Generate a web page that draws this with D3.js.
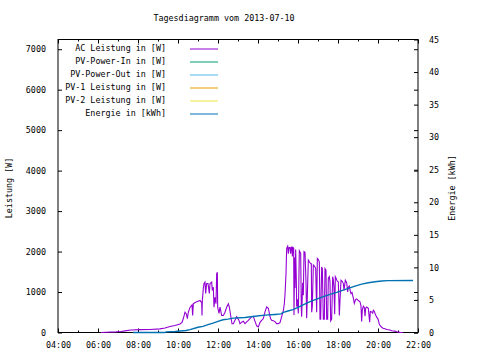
<!DOCTYPE html>
<html><head><meta charset="utf-8">
<script src="https://cdn.jsdelivr.net/npm/d3@7"></script>
<style>
html,body{margin:0;padding:0;background:#fff;}
text{font-family:"DejaVu Sans Mono",monospace;font-size:8.4px;fill:#000;}
</style></head>
<body><svg id="c" width="480" height="360"></svg>
<script>
const title = "Tagesdiagramm vom 2013-07-10";
const seriesNames = ["AC Leistung in [W]","PV-Power-In in [W]","PV-Power-Out in [W]","PV-1 Leistung in [W]","PV-2 Leistung in [W]","Energie in [kWh]"];
const seriesColors = ["#9400d3","#009e73","#56b4e9","#e69f00","#f0e442","#0072b2"];
const xTickLabels = ["04:00","06:00","08:00","10:00","12:00","14:00","16:00","18:00","20:00","22:00"];
const yTicks = [0,1000,2000,3000,4000,5000,6000,7000];
const y2Ticks = [0,5,10,15,20,25,30,35,40,45];

const acTimes = ["06:09","06:24","06:54","07:09","07:21","07:39","08:06","08:36","09:06","09:21","09:36","09:51","10:06","10:12","10:16","10:21","10:25","10:28","10:31","10:36","10:42","10:44","10:46","10:51","11:00","11:06","11:11","11:12","11:13","11:16","11:18","11:21","11:23","11:26","11:30","11:34","11:36","11:41","11:43","11:46","11:48","11:51","11:54","11:56","11:58","11:59","12:03","12:06","12:11","12:16","12:21","12:26","12:31","12:34","12:38","12:42","12:46","12:51","12:56","13:00","13:03","13:06","13:11","13:16","13:21","13:26","13:31","13:36","13:41","13:46","13:50","13:56","14:01","14:06","14:11","14:16","14:21","14:26","14:31","14:36","14:38","14:41","14:46","14:51","14:56","15:01","15:06","15:11","15:16","15:19","15:21","15:24","15:26","15:29","15:31","15:33","15:36","15:38","15:40","15:42","15:43","15:45","15:47","15:48","15:50","15:51","15:53","15:55","15:56","15:58","16:01","16:04","16:08","16:10","16:11","16:14","16:16","16:18","16:21","16:24","16:26","16:28","16:31","16:34","16:38","16:40","16:41","16:43","16:46","16:51","16:53","16:56","16:58","17:01","17:04","17:06","17:08","17:11","17:13","17:16","17:19","17:21","17:24","17:26","17:29","17:31","17:34","17:36","17:38","17:41","17:44","17:46","17:48","17:50","17:52","17:54","17:56","17:58","18:01","18:04","18:06","18:09","18:13","18:16","18:18","18:22","18:26","18:29","18:31","18:34","18:36","18:39","18:42","18:46","18:49","18:53","18:56","19:01","19:06","19:09","19:11","19:13","19:16","19:19","19:21","19:23","19:26","19:31","19:33","19:35","19:37","19:41","19:44","19:46","19:49","19:51","19:56","19:59","20:01","20:04","20:06","20:11","20:15","20:21","20:26","20:36","20:41","20:51","20:56","21:01","21:06","21:15"];
const acValues = [0,8,15,25,40,60,70,75,90,110,150,175,210,250,345,500,460,340,500,620,680,420,710,740,770,790,740,420,790,1090,1210,1245,965,1210,1210,965,1210,1245,1040,1120,625,870,710,1450,1490,625,470,625,420,420,500,625,710,625,420,215,215,300,390,340,300,215,255,280,220,265,300,340,390,400,300,165,140,250,300,345,510,630,600,400,340,300,290,270,220,220,245,390,540,715,940,1450,2080,2130,1950,2100,2100,1950,2110,2100,1880,2100,2080,430,1850,1100,2050,1300,640,820,470,2020,1960,560,390,1230,920,2000,1980,1250,350,900,1790,1750,1700,1700,500,650,1670,1620,1580,500,1830,1800,1740,330,330,1620,1580,330,330,1580,1540,330,330,1340,1380,1250,290,330,1380,1300,1090,450,1380,1350,1300,1270,1250,420,790,1290,1260,1210,1040,1290,1230,1000,1120,1150,1050,960,990,850,720,820,830,790,760,650,270,560,650,620,400,600,630,600,420,255,520,510,480,550,520,470,380,350,310,200,175,130,105,95,75,60,45,35,20,10,3,0];

const energyTimes = ["07:45","09:21","09:24","09:51","10:24","10:36","11:00","11:15","11:30","11:45","12:00","12:15","12:30","12:45","13:21","13:51","14:21","14:51","15:09","15:16","15:30","15:45","16:00","16:15","16:36","16:56","17:16","17:36","17:56","18:11","18:31","18:51","19:11","19:31","19:51","20:11","20:30","21:45"];
const energyValues = [0,0,0.1,0.15,0.3,0.45,0.8,0.95,1.2,1.45,1.72,1.95,2.05,2.2,2.3,2.5,2.67,2.77,2.85,3.1,3.3,3.5,3.85,4.25,4.73,5.13,5.5,5.86,6.16,6.42,6.78,7.13,7.44,7.65,7.8,7.9,7.96,7.98];

const pvInValues = [];
const pvOutValues = [];
const pv1Values = [];
const pv2Values = [];

const parseT = d3.timeParse("%H:%M");
const L=58, R=418, T=39.5, B=332.5;
const svg = d3.select("#c");
const x = d3.scaleTime().domain([parseT("04:00"), parseT("22:00")]).range([L,R]);
const y = d3.scaleLinear().domain([0,7240]).range([B,T]);
const y2 = d3.scaleLinear().domain([0,45]).range([B,T]);

svg.append("rect").attr("width",480).attr("height",360).attr("fill","#fff");

// title
svg.append("text").attr("x",224).attr("y",21).attr("text-anchor","middle").text(title);

const majorX = xTickLabels.map(parseT);
const minorX = d3.range(5,22,2).map(h=>parseT(String(h).padStart(2,"0")+":00"));

function styleAxis(g){ g.select(".domain").remove(); g.selectAll("line").attr("stroke","#000"); g.selectAll("text").attr("fill","#000").style("font-family",null).style("font-size",null).attr("font-family",null).attr("font-size",null); }

// bottom major
svg.append("g").attr("transform",`translate(0,${B})`)
  .call(d3.axisBottom(x).tickValues(majorX).tickSize(-4).tickPadding(10).tickFormat(d3.timeFormat("%H:%M")))
  .call(styleAxis);
svg.append("g").attr("transform",`translate(0,${B})`)
  .call(d3.axisBottom(x).tickValues(minorX).tickSize(-2).tickFormat(""))
  .call(styleAxis);
// top mirror
svg.append("g").attr("transform",`translate(0,${T})`)
  .call(d3.axisTop(x).tickValues(majorX).tickSize(-4).tickFormat(""))
  .call(styleAxis);
svg.append("g").attr("transform",`translate(0,${T})`)
  .call(d3.axisTop(x).tickValues(minorX).tickSize(-2).tickFormat(""))
  .call(styleAxis);
// left
svg.append("g").attr("transform",`translate(${L},0)`)
  .call(d3.axisLeft(y).tickValues(yTicks).tickSize(-4).tickPadding(12).tickFormat(d3.format("d")))
  .call(styleAxis);
// right mirror of y
svg.append("g").attr("transform",`translate(${R},0)`)
  .call(d3.axisRight(y).tickValues(yTicks).tickSize(-4).tickFormat(""))
  .call(styleAxis);
// right y2
svg.append("g").attr("transform",`translate(${R},0)`)
  .call(d3.axisRight(y2).tickValues(y2Ticks).tickSize(-4).tickPadding(11).tickFormat(d3.format("d")))
  .call(styleAxis);

// frame
svg.append("rect").attr("x",L).attr("y",T).attr("width",R-L).attr("height",B-T)
  .attr("fill","none").attr("stroke","#000").attr("stroke-width",1);

// axis labels
svg.append("text").attr("transform",`translate(12,188) rotate(-90)`).attr("text-anchor","middle").text("Leistung [W]");
svg.append("text").attr("transform",`translate(455,188) rotate(-90)`).attr("text-anchor","middle").text("Energie [kWh]");

// data lines
const acData = acTimes.map((t,i)=>({t:parseT(t),v:acValues[i]}));
const enData = energyTimes.map((t,i)=>({t:parseT(t),v:energyValues[i]}));
const lineY = d3.line().x(d=>x(d.t)).y(d=>y(d.v));
const lineY2 = d3.line().x(d=>x(d.t)).y(d=>y2(d.v));

svg.append("path").datum(acData).attr("d",lineY).attr("fill","none").attr("stroke",seriesColors[0]).attr("stroke-width",1.1);
[pvInValues,pvOutValues,pv1Values,pv2Values].forEach((arr,i)=>{
  if(arr.length){ svg.append("path").datum(arr).attr("d",lineY).attr("fill","none").attr("stroke",seriesColors[i+1]); }
});
svg.append("path").datum(enData).attr("d",lineY2).attr("fill","none").attr("stroke",seriesColors[5]).attr("stroke-width",1.4);

// legend
const lg = svg.append("g");
seriesNames.forEach((n,i)=>{
  const ly = 49 + i*13;
  lg.append("text").attr("x",166).attr("y",ly).attr("dy","0.2em").attr("text-anchor","end").text(n);
  lg.append("line").attr("x1",190).attr("x2",218).attr("y1",ly).attr("y2",ly).attr("stroke",seriesColors[i]).attr("stroke-width",1);
});
</script></body></html>
